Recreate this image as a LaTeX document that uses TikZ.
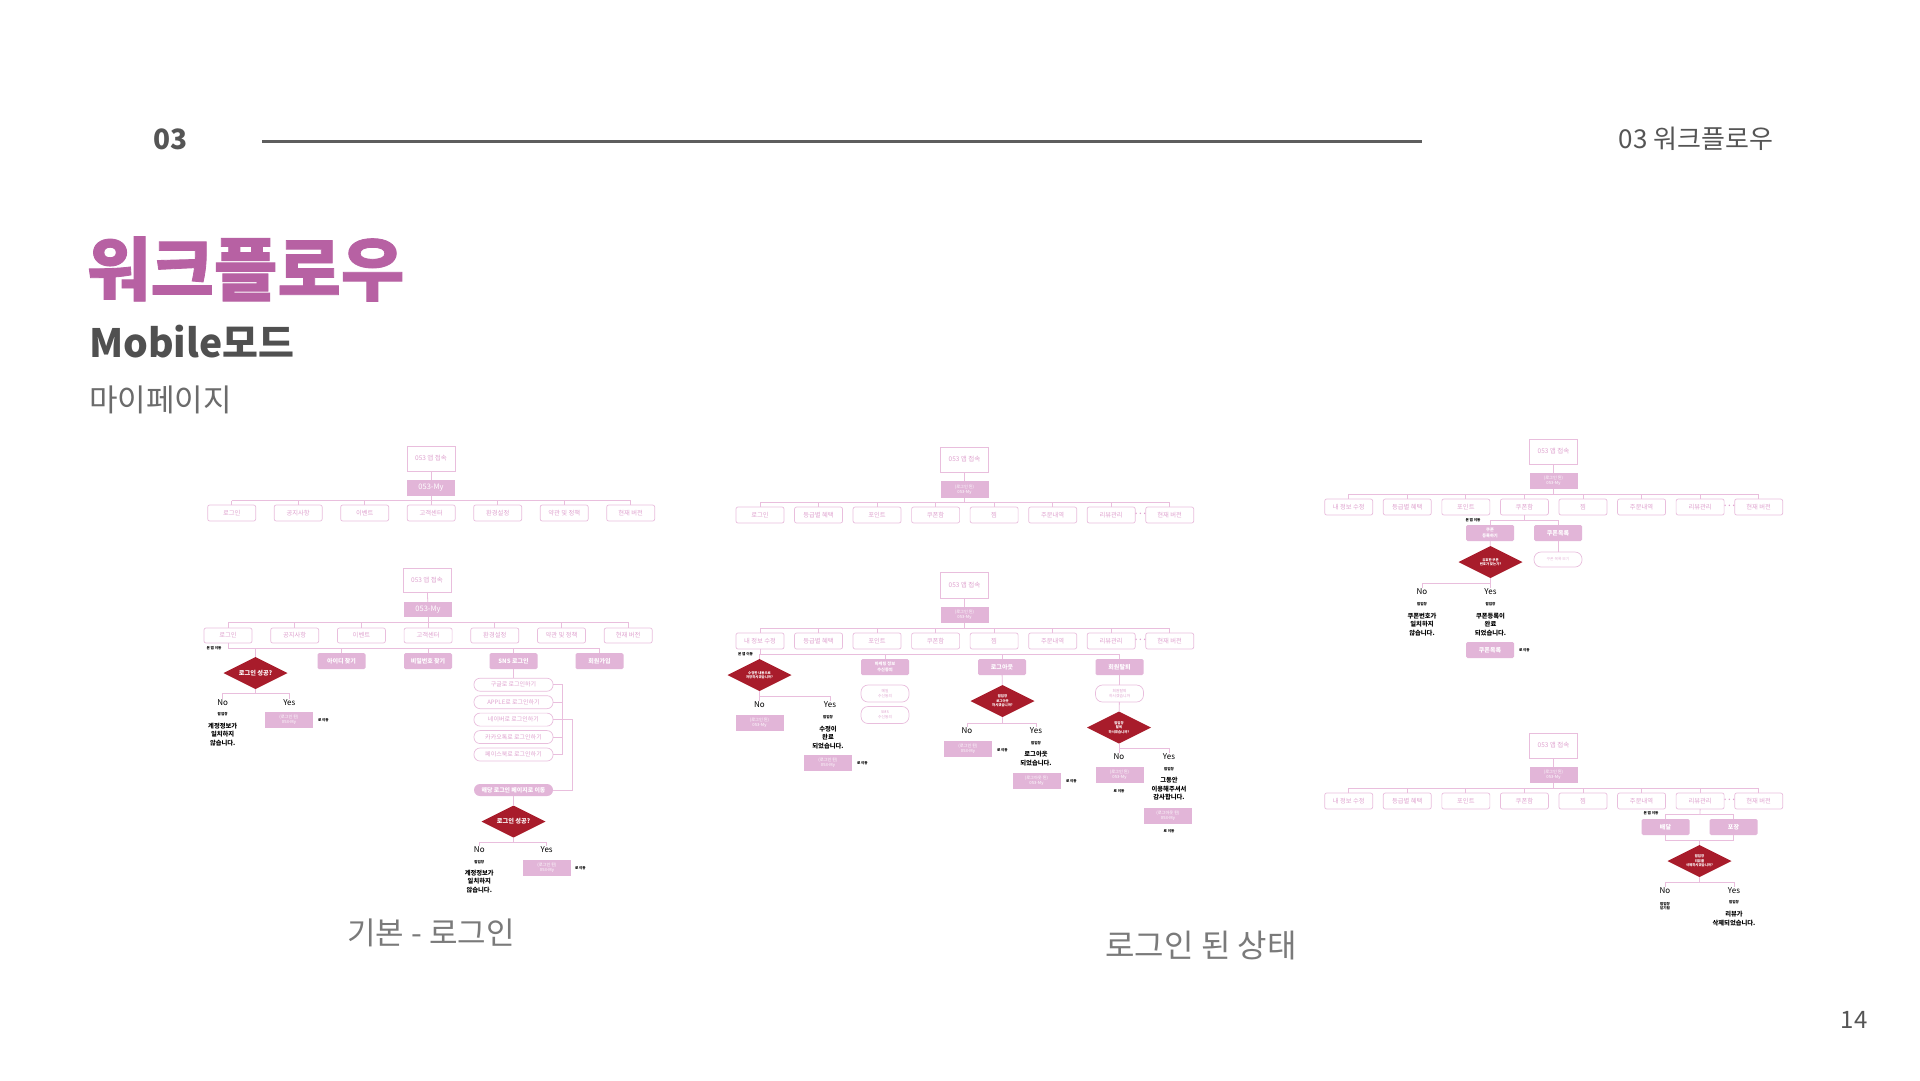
\documentclass[tikz,border=0pt]{standalone}
\usepackage{fontspec}
\setmainfont{Noto Sans CJK KR}
\usetikzlibrary{shapes.geometric,calc}

\definecolor{hdr}{HTML}{555555}
\definecolor{rulegray}{HTML}{5E5E5E}
\definecolor{titlepink}{HTML}{B761A3}
\definecolor{subgray}{HTML}{505050}
\definecolor{subgray2}{HTML}{6B6B6B}
\definecolor{capgray}{HTML}{7A7A7A}
\definecolor{pline}{HTML}{E9BEDD}
\definecolor{pfill}{HTML}{E2B5D8}
\definecolor{ptext}{HTML}{DFA3CF}
\definecolor{dred}{HTML}{A81C2B}

\tikzset{
  every node/.style={inner sep=0pt, outer sep=0pt},
  acc/.style={draw=pline, line width=0.9pt, fill=white, minimum width=48pt, minimum height=25pt,
    text=ptext, font=\fontsize{6.5}{7}\selectfont},
  mybox/.style={fill=pfill, minimum width=48pt, minimum height=16pt, text=white, align=center,
    font=\fontsize{7.5}{8}\selectfont},
  mybox2/.style={mybox, font=\fontsize{4.2}{5.2}\selectfont},
  child/.style={draw=pline, line width=0.7pt, rounded corners=2pt, fill=white, minimum width=48pt,
    minimum height=16pt, text=ptext, font=\fontsize{6.3}{7}\selectfont},
  act/.style={fill=pfill, rounded corners=1.5pt, minimum width=48pt, minimum height=16pt, text=white,
    align=center, font=\bfseries\fontsize{6}{7}\selectfont},
  actsm/.style={act, font=\bfseries\fontsize{4.2}{5.2}\selectfont},
  pill/.style={draw=pline, line width=0.7pt, rounded corners=6pt, fill=white, minimum width=79pt,
    minimum height=13pt, text=ptext, align=center, font=\fontsize{6}{7}\selectfont},
  fpill/.style={fill=pfill, rounded corners=6pt, minimum width=79pt, minimum height=12pt, text=white,
    font=\bfseries\fontsize{5.9}{7}\selectfont},
  spill/.style={draw=pline, line width=0.7pt, rounded corners=7pt, fill=white, minimum width=48pt,
    minimum height=17pt, text=ptext, align=center, font=\fontsize{3.8}{4.6}\selectfont},
  dia/.style={diamond, aspect=2, fill=dred, minimum width=64pt, minimum height=32pt, text=white,
    align=center, font=\bfseries\fontsize{3.4}{4.3}\selectfont},
  bigdia/.style={font=\bfseries\fontsize{6.2}{7}\selectfont},
  ans/.style={outer sep=1.2pt, text=black, font=\fontsize{8}{9}\selectfont},
  msg/.style={text=black, align=center, font=\bfseries\fontsize{6.3}{8.5}\selectfont},
  tiny/.style={text=black, align=center, font=\bfseries\fontsize{3.6}{4.4}\selectfont},
  ellip/.style={text=ptext, font=\bfseries\fontsize{7}{7}\selectfont},
  conn/.style={draw=pline, line width=0.8pt},
}

\begin{document}
\begin{tikzpicture}[x=1pt,y=-1pt]
\useasboundingbox[fill=white] (0,0) rectangle (1920,1080);

% ---------------- page header and titles
\node[anchor=west, text=hdr, font=\bfseries\fontsize{28}{28}\selectfont] (secno) at (153,139) {03};
\coordinate (rulel) at (262,141);
\coordinate (ruler) at (1422,141);
\draw[rulegray, line width=3pt] (rulel) -- (ruler);
\node[anchor=east, text=hdr, font=\fontsize{26}{26}\selectfont] (sectitle) at (1773,139) {03 워크플로우};
\node[anchor=west, text=titlepink, font=\bfseries\addfontfeatures{FakeBold=1.2}\fontsize{69}{69}\selectfont] (title) at (87,269) {워크플로우};
\node[anchor=west, text=subgray, font=\bfseries\fontsize{39}{39}\selectfont] (mode) at (89,342) {Mobile모드};
\node[anchor=west, text=subgray2, font=\fontsize{31}{31}\selectfont] (pagename) at (89,400) {마이페이지};
\node[text=capgray, font=\fontsize{31}{31}\selectfont] (cap1) at (431,933) {기본 - 로그인};
\node[text=capgray, font=\fontsize{32}{32}\selectfont] (cap2) at (1201,946) {로그인 된 상태};
\node[text=hdr, font=\fontsize{24}{24}\selectfont] (pno) at (1854,1020) {14};

% ================= basic: menu tree
\node[acc] (a1) at (431,458.5) {053 앱 접속};
\node[mybox] (m1) at (431,488) {053-My};
\coordinate (l1bus) at (431,500.7);
\foreach \t [count=\i] in {로그인,공지사항,이벤트,고객센터,환경설정,약관 및 정책,현재 버전}
  \node[child] (l1c\i) at ({231.7+66.5*(\i-1)},513) {\t};
\draw[conn] (a1) -- (m1);
\draw[conn] (m1) -- (l1bus);
\draw[conn] (l1c1.north |- l1bus) -- (l1c7.north |- l1bus);
\foreach \i in {1,...,7} \draw[conn] (l1c\i.north |- l1bus) -- (l1c\i.north);

% ================= basic: login flow
\node[acc, minimum height=24pt] (a2) at (427,580) {053 앱 접속};
\node[mybox, minimum height=15pt] (m2) at (428,609.5) {053-My};
\coordinate (l2bus) at (428,622);
\foreach \t [count=\i] in {로그인,공지사항,이벤트,고객센터,환경설정,약관 및 정책,현재 버전}
  \node[child, minimum height=15pt] (l2c\i) at ({228+66.7*(\i-1)},635.5) {\t};
\draw[conn] (a2) -- (m2);
\draw[conn] (m2) -- (l2bus);
\draw[conn] (l2c1.north |- l2bus) -- (l2c7.north |- l2bus);
\foreach \i in {1,...,7} \draw[conn] (l2c\i.north |- l2bus) -- (l2c\i.north);

\coordinate (l2bus2) at (228,648);
\node[tiny] (l2note) at (214,648.5) {본 앱 이동};
\node[act] (fid) at (341.5,661) {아이디 찾기};
\node[act] (fpw) at (428,661) {비밀번호 찾기};
\node[act] (sns) at (513.5,661) {SNS 로그인};
\node[act] (sjoin) at (599.5,661) {회원가입};
\node[dia, bigdia] (d1) at (255.5,673) {로그인 성공?};
\draw[conn] (l2c1.south) -- (l2c1.south |- l2bus2) -- (sjoin.north |- l2bus2);
\foreach \n in {d1,fid,fpw,sns,sjoin} \draw[conn] (\n.north |- l2bus2) -- (\n.north);

\coordinate (l2j1) at (255.5,693.3);
\node[ans] (no1) at (222.7,702.7) {No};
\node[ans] (yes1) at (289.3,702.7) {Yes};
\draw[conn] (d1.south) -- (l2j1);
\draw[conn] (no1.north) |- (l2j1) -| (yes1.north);
\node[tiny] (pp1) at (222.7,714) {팝업창};
\node[msg] (msg1) at (222.7,734.5) {계정정보가\\일치하지\\않습니다.};
\node[mybox2] (g1) at (289,720) {(로그인 된)\\053-My};
\node[tiny, anchor=west] (mv1) at (318,720) {로 이동};

\foreach \t [count=\i] in {구글로 로그인하기,APPLE로 로그인하기,네이버로 로그인하기,카카오톡로 로그인하기,페이스북로 로그인하기}
  \node[pill] (sp\i) at (513.5,{684.7+17.45*(\i-1)}) {\t};
\draw[conn] (sns) -- (sp1);
\coordinate (brk) at (562.7,0);
\coordinate (brk2) at (572.7,0);
\foreach \i in {1,...,5} \draw[conn] (sp\i.east) -- (sp\i.east -| brk);
\draw[conn] (sp1.east -| brk) -- (sp5.east -| brk);
\node[fpill] (goto) at (513.5,790) {해당 로그인 페이지로 이동};
\draw[conn] (sp3.east -| brk) -- (sp3.east -| brk2) -- (brk2 |- goto.east) -- (goto.east);
\node[dia, bigdia] (d2) at (513.5,821.5) {로그인 성공?};
\draw[conn] (goto) -- (d2);
\coordinate (l2j2) at (513.5,842);
\node[ans] (no2) at (479.3,850) {No};
\node[ans] (yes2) at (546.7,850) {Yes};
\draw[conn] (d2.south) -- (l2j2);
\draw[conn] (no2.north) |- (l2j2) -| (yes2.north);
\node[tiny] (pp2) at (479.3,862) {팝업창};
\node[msg] (msg2) at (479.3,881.5) {계정정보가\\일치하지\\않습니다.};
\node[mybox2] (g2) at (547,868) {(로그인 된)\\053-My};
\node[tiny, anchor=west] (mv2) at (575,868) {로 이동};

% ================= logged in: menu tree
\node[acc] (a3) at (964.5,459.5) {053 앱 접속};
\node[mybox2, minimum height=17pt] (m3) at (964.5,489.5) {(로그인 된)\\053-My};
\coordinate (m1bus) at (964.5,502);
\foreach \t [count=\i] in {로그인,등급별 혜택,포인트,쿠폰함,찜,주문내역,리뷰관리,현재 버전}
  \node[child] (m1c\i) at ({760+58.53*(\i-1)},515) {\t};
\node[ellip] (m1dt) at ($(m1c7)!0.5!(m1c8)$) {···};
\draw[conn] (a3) -- (m3);
\draw[conn] (m3) -- (m1bus);
\draw[conn] (m1c1.north |- m1bus) -- (m1c8.north |- m1bus);
\foreach \i in {1,...,8} \draw[conn] (m1c\i.north |- m1bus) -- (m1c\i.north);

% ================= logged in: my info, marketing, logout, withdrawal
\node[acc, minimum height=26pt] (a4) at (964.5,585) {053 앱 접속};
\node[mybox2] (m4) at (964.5,615) {(로그인 된)\\053-My};
\coordinate (m2bus) at (964.5,628);
\foreach \t [count=\i] in {내 정보 수정,등급별 혜택,포인트,쿠폰함,찜,주문내역,리뷰관리,현재 버전}
  \node[child] (m2c\i) at ({760+58.53*(\i-1)},641) {\t};
\node[ellip] (m2dt) at ($(m2c7)!0.5!(m2c8)$) {···};
\draw[conn] (a4) -- (m4);
\draw[conn] (m4) -- (m2bus);
\draw[conn] (m2c1.north |- m2bus) -- (m2c8.north |- m2bus);
\foreach \i in {1,...,8} \draw[conn] (m2c\i.north |- m2bus) -- (m2c\i.north);

\coordinate (m2bus2) at (760,654);
\node[tiny] (m2note) at (745.5,654.3) {본 앱 이동};
\node[dia] (d3) at (759.5,675) {수정한 내용으로\\저장하시겠습니까?};
\node[actsm] (mkt) at (885,667) {마케팅 정보\\수신동의};
\node[act] (lo) at (1002,667) {로그아웃};
\node[act] (wd) at (1119.5,667) {회원탈퇴};
\draw[conn] (m2c1.south) -- (m2c1.south |- m2bus2) -- (wd.north |- m2bus2);
\foreach \n in {d3,mkt,lo,wd} \draw[conn] (\n.north |- m2bus2) -- (\n.north);

% my info branch
\coordinate (m2j1) at (759.5,696);
\node[ans] (no3) at (759.5,705) {No};
\node[ans] (yes3) at (830,705) {Yes};
\draw[conn] (d3.south) -- (m2j1);
\draw[conn] (no3.north) |- (m2j1) -| (yes3.north);
\node[mybox2] (g3) at (759.5,723) {(로그인 된)\\053-My};
\node[tiny] (pp3) at (828,717) {팝업창};
\node[msg] (msg3) at (828,737.5) {수정이\\완료\\되었습니다.};
\node[mybox2] (g4) at (828,763) {(로그인 된)\\053-My};
\node[tiny, anchor=west] (mv3) at (857,763) {로 이동};

% marketing consent
\node[spill] (mp1) at (885,693.5) {메일\\수신동의};
\node[spill] (mp2) at (885,715) {SMS\\수신동의};

% logout branch
\node[dia] (d4) at (1002.5,701) {팝업창\\로그아웃\\하시겠습니까?};
\draw[conn] (lo) -- (d4);
\coordinate (m2j2) at (1002.5,723);
\node[ans] (no4) at (967,731) {No};
\node[ans] (yes4) at (1036,731) {Yes};
\draw[conn] (d4.south) -- (m2j2);
\draw[conn] (no4.north) |- (m2j2) -| (yes4.north);
\node[mybox2] (g5) at (968,749) {(로그인 된)\\053-My};
\node[tiny, anchor=west] (mv4) at (997,750) {로 이동};
\node[tiny] (pp4) at (1036,743) {팝업창};
\node[msg] (msg4) at (1036,758.5) {로그아웃\\되었습니다.};
\node[mybox2] (g6) at (1036.5,781) {(로그아웃 된)\\053-My};
\node[tiny, anchor=west] (mv5) at (1066,781) {로 이동};

% withdrawal branch
\node[spill] (wp) at (1119.5,693.5) {회원탈퇴\\하시겠습니까};
\node[dia] (d5) at (1119,727.5) {팝업창\\탈퇴\\하시겠습니까?};
\draw[conn] (wd) -- (wp);
\draw[conn] (wp) -- (d5);
\coordinate (m2j3) at (1119,748);
\node[ans] (no5) at (1119,757) {No};
\node[ans] (yes5) at (1169,757) {Yes};
\draw[conn] (d5.south) -- (m2j3);
\draw[conn] (no5.north) |- (m2j3) -| (yes5.north);
\node[mybox2] (g7) at (1119.5,775) {(로그인 된)\\053-My};
\node[tiny] (mv6) at (1119,791) {로 이동};
\node[tiny] (pp5) at (1169,769) {팝업창};
\node[msg] (msg5) at (1169,789) {그동안\\이용해주셔서\\감사합니다.};
\node[mybox2] (g8) at (1168,815.5) {(로그아웃 된)\\053-My};
\node[tiny] (mv7) at (1169,831) {로 이동};

% ================= coupon flow
\node[acc] (a5) at (1553.5,451.5) {053 앱 접속};
\node[mybox2] (m5) at (1553.5,481) {(로그인 된)\\053-My};
\coordinate (r1bus) at (1553.5,494);
\foreach \t [count=\i] in {내 정보 수정,등급별 혜택,포인트,쿠폰함,찜,주문내역,리뷰관리,현재 버전}
  \node[child] (r1c\i) at ({1348.7+58.57*(\i-1)},507) {\t};
\node[ellip] (r1dt) at ($(r1c7)!0.5!(r1c8)$) {···};
\draw[conn] (a5) -- (m5);
\draw[conn] (m5) -- (r1bus);
\draw[conn] (r1c1.north |- r1bus) -- (r1c8.north |- r1bus);
\foreach \i in {1,...,8} \draw[conn] (r1c\i.north |- r1bus) -- (r1c\i.north);

\coordinate (r1j0) at (1524.4,520.3);
\draw[conn] (r1c4.south) -- (r1j0);
\node[actsm] (cr) at (1490,533) {쿠폰\\등록하기};
\node[act] (cl) at (1558,533) {쿠폰목록};
\draw[conn] (cr.north) |- (r1j0) -| (cl.north);
\node[tiny] (r1note) at (1473,520.3) {본 앱 이동};
\node[dia] (d6) at (1490.5,562) {유효한 쿠폰\\번호가 맞는가?};
\draw[conn] (cr) -- (d6);
\node[spill, minimum height=15pt, text=ptext!75] (clp) at (1558,559.5) {쿠폰 목록 보기};
\draw[conn] (cl) -- (clp);
\coordinate (r1j1) at (1490.5,583);
\node[ans] (no6) at (1422,592) {No};
\node[ans] (yes6) at (1490.5,592) {Yes};
\draw[conn] (d6.south) -- (r1j1);
\draw[conn] (no6.north) |- (r1j1) -| (yes6.north);
\node[tiny] (pp6) at (1422,604) {팝업창};
\node[tiny] (pp7) at (1490.5,604) {팝업창};
\node[msg] (msg6) at (1422,624.5) {쿠폰번호가\\일치하지\\않습니다.};
\node[msg] (msg7) at (1490.5,624.5) {쿠폰등록이\\완료\\되었습니다.};
\node[act] (cl2) at (1490,650) {쿠폰목록};
\node[tiny, anchor=west] (mv8) at (1519,650) {로 이동};

% ================= review flow
\node[acc] (a6) at (1553.5,745.5) {053 앱 접속};
\node[mybox2] (m6) at (1553.5,775) {(로그인 된)\\053-My};
\coordinate (r2bus) at (1553.5,788);
\foreach \t [count=\i] in {내 정보 수정,등급별 혜택,포인트,쿠폰함,찜,주문내역,리뷰관리,현재 버전}
  \node[child] (r2c\i) at ({1348.7+58.57*(\i-1)},801) {\t};
\node[ellip] (r2dt) at ($(r2c7)!0.5!(r2c8)$) {···};
\draw[conn] (a6) -- (m6);
\draw[conn] (m6) -- (r2bus);
\draw[conn] (r2c1.north |- r2bus) -- (r2c8.north |- r2bus);
\foreach \i in {1,...,8} \draw[conn] (r2c\i.north |- r2bus) -- (r2c\i.north);

\coordinate (r2j0) at (1700,814);
\draw[conn] (r2c7.south) -- (r2j0);
\node[act] (dl) at (1665.5,827) {배달};
\node[act] (tk) at (1733.5,827) {포장};
\draw[conn] (dl.north) |- (r2j0) -| (tk.north);
\node[tiny] (r2note) at (1651,813.3) {본 앱 이동};
\coordinate (r2j1) at (1699.5,840);
\draw[conn] (dl.south) |- (r2j1) -| (tk.south);
\node[dia] (d7) at (1699.5,861) {팝업창\\리뷰를\\삭제하시겠습니까?};
\draw[conn] (r2j1) -- (d7);
\coordinate (r2j2) at (1699.5,882);
\node[ans] (no7) at (1665,891) {No};
\node[ans] (yes7) at (1734,891) {Yes};
\draw[conn] (d7.south) -- (r2j2);
\draw[conn] (no7.north) |- (r2j2) -| (yes7.north);
\node[tiny] (pp8) at (1665,906) {팝업창\\닫기됨};
\node[tiny] (pp9) at (1734,902) {팝업창};
\node[msg] (msg8) at (1734,918.5) {리뷰가\\삭제되었습니다.};

\end{tikzpicture}
\end{document}
